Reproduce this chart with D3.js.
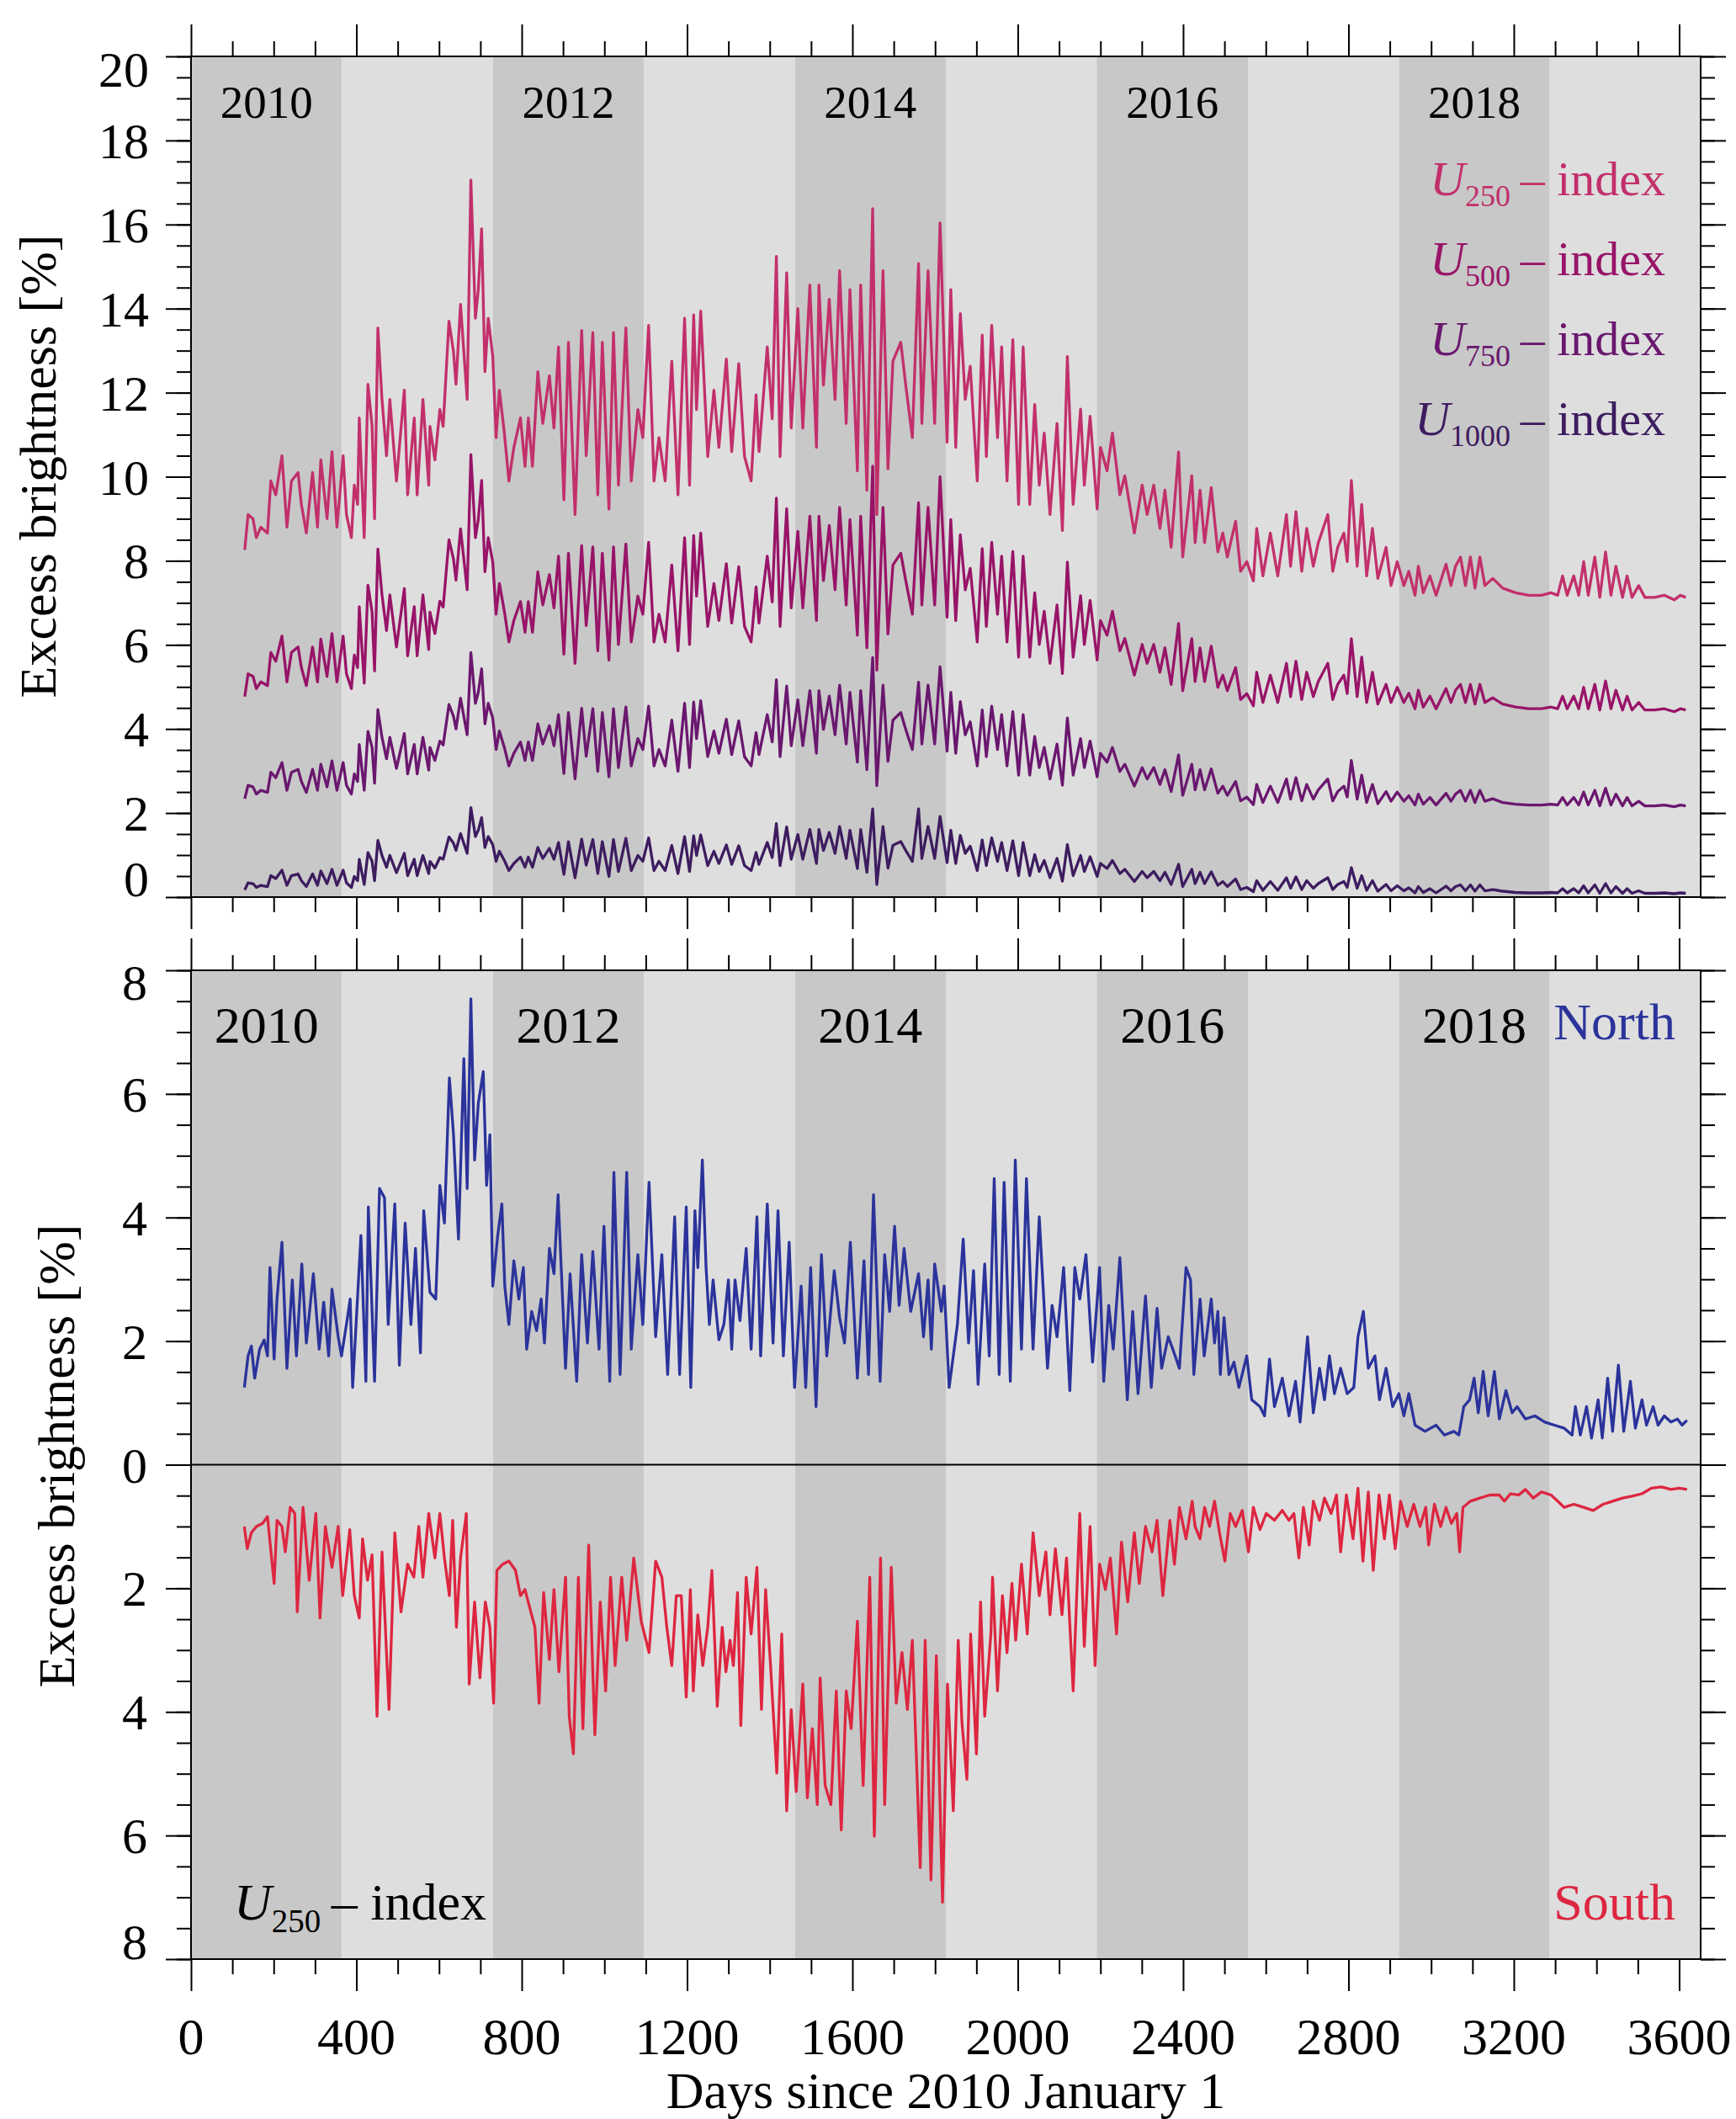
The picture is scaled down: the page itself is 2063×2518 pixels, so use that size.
<!DOCTYPE html>
<html>
<head>
<meta charset="utf-8">
<script src="https://cdn.jsdelivr.net/npm/d3@7"></script>
<style>
  body { margin: 0; background: #fff; }
  svg text { font-family: "Liberation Serif", "Times New Roman", serif; }
</style>
</head>
<body>
<svg id="chart" width="2063" height="2518"></svg>
<script>
// ---- data ----
const yearStarts = [0, 365, 730, 1096, 1461, 1826, 2191, 2557, 2922, 3287, 3652];
const yearNames = [2010, 2011, 2012, 2013, 2014, 2015, 2016, 2017, 2018, 2019];
const yearLabels = [2010, 2012, 2014, 2016, 2018];

const topDays = [
  130,138,150,158,169,185,193,205,220,232,
  243,259,267,279,294,306,314,329,341,353,
  368,376,388,395,403,407,419,428,438,444,
  452,462,473,481,497,516,524,540,547,561,
  575,578,590,602,610,624,635,641,652,668,
  677,688,695,703,711,719,730,738,746,758,
  769,781,797,808,816,826,839,851,867,878,
  889,902,913,929,945,956,972,984,995,1011,
  1022,1034,1052,1065,1081,1093,1107,1120,1132,1147,
  1163,1178,1194,1206,1216,1223,1233,1250,1265,1277,
  1295,1308,1325,1339,1355,1367,1374,1394,1406,1416,
  1425,1441,1452,1468,1480,1497,1513,1519,1530,1544,
  1558,1569,1585,1594,1612,1620,1635,1649,1659,1674,
  1686,1698,1717,1729,1745,1760,1768,1783,1799,1812,
  1829,1838,1850,1861,1873,1885,1902,1914,1924,1937,
  1951,1961,1974,1988,2002,2013,2029,2041,2052,2064,
  2078,2095,2108,2120,2134,2152,2161,2175,2192,2200,
  2216,2229,2247,2259,2282,2301,2313,2329,2344,2356,
  2371,2389,2399,2421,2429,2441,2452,2468,2484,2496,
  2507,2527,2539,2554,2570,2578,2593,2611,2629,2650,
  2660,2673,2687,2699,2715,2727,2750,2762,2774,2789,
  2797,2807,2821,2832,2844,2858,2871,2891,2903,2918,
  2934,2946,2961,2969,2981,2997,3012,3036,3048,3059,
  3071,3083,3095,3106,3118,3130,3149,3173,3204,3236,
  3267,3290,3306,3318,3329,3345,3357,3369,3380,3396,
  3408,3422,3435,3447,3463,3474,3486,3502,3517,3541,
  3564,3588,3603,3616
];

const u250 = [
  8.26,9.1,9.0,8.55,8.8,8.66,9.9,9.57,10.5,8.8,
  9.9,10.1,9.34,8.66,10.1,8.8,10.4,9.0,10.6,8.8,
  10.5,9.1,8.55,9.8,9.34,11.4,8.55,12.2,11.2,9.0,
  13.54,11.84,10.5,11.84,9.9,12.06,9.57,11.4,9.57,11.84,
  9.8,11.2,10.4,11.6,11.2,13.7,12.97,12.2,14.1,11.84,
  17.06,13.77,14.45,15.9,12.5,13.77,12.86,10.93,12.06,11.04,
  9.9,10.7,11.4,10.25,11.4,10.25,12.5,11.27,12.4,11.16,
  13.09,9.45,13.2,9.1,13.48,10.5,13.43,9.57,13.2,9.23,
  13.43,9.8,13.54,9.9,11.6,10.93,13.6,9.9,10.93,9.9,
  12.75,9.57,13.77,9.8,13.85,11.6,13.94,10.48,12.06,10.7,
  12.8,10.6,12.69,10.48,9.9,11.95,10.6,13.09,11.38,15.24,
  10.48,14.85,11.16,14.0,11.16,14.56,10.7,14.56,12.18,14.22,
  11.84,14.9,11.27,14.45,10.14,14.56,9.68,16.38,9.1,14.9,
  10.19,12.75,13.2,12.18,10.93,15.07,11.27,14.9,11.27,16.04,
  10.82,14.45,10.7,13.88,11.84,12.63,9.9,13.37,10.48,13.6,
  10.93,13.09,9.9,13.26,9.34,13.09,9.34,11.72,9.8,11.04,
  9.1,11.27,8.72,12.86,9.34,11.61,9.8,11.44,9.23,10.7,
  10.14,11.04,9.57,10.02,8.66,9.8,9.1,9.8,8.77,9.68,
  8.32,10.59,8.09,10.02,8.43,9.68,8.43,9.74,8.21,8.66,
  8.09,8.94,7.75,7.98,7.52,8.77,7.64,8.66,7.64,9.1,
  7.87,9.17,7.75,8.77,7.87,8.43,9.1,7.75,8.32,8.66,
  7.98,9.91,7.87,9.34,7.64,8.77,7.58,8.32,7.41,7.98,
  7.41,7.75,7.18,7.87,7.24,7.64,7.18,7.92,7.41,7.87,
  8.09,7.41,8.09,7.35,8.09,7.41,7.58,7.35,7.24,7.18,
  7.18,7.24,7.18,7.64,7.18,7.64,7.18,7.98,7.18,8.09,
  7.13,8.21,7.18,7.87,7.13,7.64,7.13,7.41,7.13,7.13,
  7.18,7.07,7.18,7.13
];

const u500 = [
  4.77,5.31,5.25,4.96,5.12,5.03,5.82,5.61,6.21,5.12,
  5.82,5.95,5.46,5.03,5.95,5.12,6.14,5.25,6.27,5.12,
  6.21,5.31,4.96,5.76,5.46,6.91,5.09,7.42,6.78,5.38,
  8.28,7.19,6.34,7.19,5.95,7.34,5.74,6.91,5.74,7.19,
  5.89,6.78,6.27,7.04,6.9,8.5,8.04,7.54,8.76,7.31,
  10.53,8.55,8.98,9.91,7.74,8.55,7.97,6.73,7.46,6.8,
  6.07,6.58,7.03,6.3,7.03,6.3,7.74,6.95,7.67,6.88,
  8.11,5.78,8.18,5.56,8.36,6.46,8.33,5.86,8.18,5.64,
  8.33,6.01,8.4,6.07,7.16,6.73,8.44,6.07,6.73,6.07,
  7.9,5.86,8.55,6.01,8.6,7.16,8.66,6.44,7.46,6.58,
  7.93,6.52,7.86,6.44,6.07,7.38,6.52,8.11,7.02,9.49,
  6.44,9.24,6.88,8.7,6.88,9.06,6.58,9.06,7.53,8.84,
  7.31,9.27,6.95,8.98,6.23,9.06,5.93,10.25,5.4,9.27,
  6.26,7.9,8.18,7.53,6.73,9.38,6.95,9.27,6.95,10.0,
  6.66,8.98,6.58,8.62,7.31,7.82,6.07,8.29,6.44,8.44,
  6.73,8.11,6.07,8.22,5.71,8.11,5.71,7.24,6.01,6.8,
  5.56,6.95,5.32,7.97,5.71,7.17,6.01,7.06,5.64,6.58,
  6.23,6.8,5.86,6.15,5.28,6.01,5.56,6.01,5.35,5.93,
  5.06,6.51,4.91,6.15,5.13,5.93,5.13,5.97,4.99,5.28,
  4.91,5.46,4.7,4.84,4.55,5.35,4.63,5.28,4.63,5.56,
  4.77,5.61,4.7,5.35,4.77,5.13,5.56,4.7,5.06,5.28,
  4.84,6.15,4.77,5.71,4.63,5.35,4.59,5.06,4.63,4.99,
  4.63,4.85,4.48,4.92,4.52,4.78,4.48,4.96,4.63,4.92,
  5.06,4.63,5.06,4.59,5.06,4.63,4.74,4.59,4.52,4.48,
  4.48,4.52,4.48,4.78,4.48,4.78,4.48,4.99,4.48,5.06,
  4.45,5.14,4.48,4.92,4.45,4.78,4.45,4.63,4.45,4.45,
  4.48,4.41,4.48,4.45
];

const u750 = [
  2.34,2.66,2.62,2.45,2.54,2.49,2.97,2.84,3.2,2.54,
  2.97,3.04,2.75,2.49,3.04,2.54,3.16,2.62,3.24,2.54,
  3.2,2.66,2.45,2.93,2.75,3.63,2.54,3.94,3.56,2.71,
  4.46,3.8,3.29,3.8,3.06,3.89,2.93,3.63,2.93,3.8,
  3.02,3.56,3.25,3.71,3.62,4.58,4.3,4.0,4.73,3.86,
  5.82,4.61,4.87,5.43,4.12,4.61,4.26,3.51,3.95,3.56,
  3.12,3.42,3.69,3.25,3.69,3.25,4.12,3.64,4.08,3.6,
  4.34,2.94,4.39,2.81,4.49,3.35,4.48,2.99,4.39,2.86,
  4.48,3.08,4.52,3.12,3.77,3.51,4.54,3.12,3.51,3.12,
  4.21,2.99,4.61,3.08,4.64,3.77,4.67,3.34,3.95,3.42,
  4.23,3.39,4.19,3.34,3.12,3.91,3.39,4.34,3.69,5.17,
  3.34,5.02,3.6,4.69,3.6,4.91,3.42,4.91,3.99,4.78,
  3.86,5.04,3.64,4.87,3.21,4.91,3.03,5.7,2.65,5.04,
  3.23,4.21,4.39,3.99,3.51,5.11,3.64,5.04,3.64,5.48,
  3.47,4.87,3.42,4.65,3.86,4.17,3.12,4.45,3.34,4.54,
  3.51,4.34,3.12,4.41,2.9,4.34,2.9,3.82,3.08,3.56,
  2.81,3.64,2.66,4.26,2.9,3.77,3.08,3.71,2.86,3.42,
  3.21,3.56,2.99,3.16,2.64,3.08,2.81,3.08,2.68,3.03,
  2.51,3.38,2.42,3.16,2.55,3.03,2.55,3.05,2.47,2.64,
  2.42,2.75,2.29,2.38,2.2,2.68,2.25,2.64,2.25,2.81,
  2.33,2.84,2.29,2.68,2.33,2.55,2.81,2.29,2.51,2.64,
  2.38,3.25,2.33,2.9,2.25,2.68,2.22,2.51,2.28,2.5,
  2.28,2.41,2.19,2.45,2.21,2.37,2.19,2.47,2.28,2.45,
  2.54,2.28,2.54,2.25,2.54,2.28,2.34,2.25,2.21,2.19,
  2.19,2.21,2.19,2.37,2.19,2.37,2.19,2.5,2.19,2.54,
  2.17,2.59,2.19,2.45,2.17,2.37,2.17,2.28,2.17,2.17,
  2.19,2.15,2.19,2.17
];

const u1000 = [
  0.17,0.34,0.32,0.23,0.28,0.25,0.51,0.44,0.64,0.28,
  0.51,0.55,0.39,0.25,0.55,0.28,0.62,0.32,0.66,0.28,
  0.64,0.34,0.23,0.49,0.39,0.9,0.3,1.06,0.85,0.39,
  1.35,0.99,0.71,0.99,0.58,1.04,0.51,0.9,0.51,0.99,
  0.56,0.85,0.69,0.94,0.9,1.43,1.28,1.11,1.51,1.04,
  2.13,1.44,1.59,1.89,1.18,1.44,1.25,0.85,1.09,0.87,
  0.63,0.8,0.95,0.71,0.95,0.71,1.18,0.92,1.16,0.9,
  1.3,0.54,1.32,0.46,1.38,0.76,1.37,0.56,1.32,0.49,
  1.37,0.61,1.4,0.63,0.99,0.85,1.41,0.63,0.85,0.63,
  1.23,0.56,1.44,0.61,1.46,0.99,1.48,0.75,1.09,0.8,
  1.24,0.78,1.22,0.75,0.63,1.06,0.78,1.3,0.94,1.75,
  0.75,1.67,0.9,1.49,0.9,1.61,0.8,1.61,1.11,1.54,
  1.04,1.68,0.92,1.59,0.68,1.61,0.59,2.1,0.3,1.68,
  0.69,1.23,1.32,1.11,0.85,2.1,0.92,1.68,0.92,1.92,
  0.82,1.59,0.8,1.47,1.04,1.21,0.63,1.36,0.75,1.41,
  0.85,1.3,0.63,1.34,0.51,1.3,0.51,1.01,0.61,0.87,
  0.46,0.92,0.38,1.25,0.51,0.99,0.61,0.96,0.49,0.8,
  0.68,0.87,0.56,0.66,0.37,0.61,0.46,0.61,0.39,0.59,
  0.3,0.78,0.25,0.66,0.32,0.59,0.32,0.6,0.28,0.37,
  0.25,0.43,0.18,0.23,0.13,0.39,0.16,0.37,0.16,0.46,
  0.21,0.48,0.18,0.39,0.21,0.32,0.46,0.18,0.3,0.37,
  0.23,0.7,0.21,0.51,0.16,0.39,0.14,0.3,0.15,0.27,
  0.15,0.22,0.1,0.25,0.11,0.2,0.1,0.26,0.15,0.25,
  0.29,0.15,0.29,0.14,0.29,0.15,0.18,0.14,0.11,0.1,
  0.1,0.11,0.1,0.2,0.1,0.2,0.1,0.27,0.1,0.29,
  0.09,0.32,0.1,0.25,0.09,0.2,0.09,0.15,0.09,0.09,
  0.1,0.08,0.1,0.09
];

// U250 index, northern hemisphere [day, %]
const north = [
  [129,1.25],[138,1.76],[146,1.92],[154,1.4],[166,1.87],[177,2.02],[185,1.76],[191,3.19],[201,1.71],[208,2.68],
  [220,3.6],[232,1.56],[245,2.99],[255,1.76],[268,3.25],[279,1.97],[296,3.09],[310,1.87],[321,2.63],[333,1.76],
  [341,2.84],[356,2.07],[364,1.76],[376,2.27],[385,2.68],[391,1.25],[411,3.71],[423,1.35],[429,4.17],[444,1.35],
  [456,4.47],[468,4.32],[477,2.27],[493,4.22],[504,1.61],[518,3.91],[532,2.27],[543,3.5],[555,1.81],[563,4.11],
  [578,2.79],[592,2.68],[602,4.52],[613,3.91],[625,6.26],[635,5.34],[647,3.65],[660,6.57],[668,4.47],[677,7.54],
  [686,4.93],[695,5.85],[707,6.36],[715,4.52],[723,5.34],[730,2.89],[742,3.71],[752,4.22],[759,2.89],[769,2.27],
  [781,3.3],[793,2.68],[804,3.19],[812,1.87],[824,2.48],[836,2.17],[847,2.68],[855,1.97],[867,3.5],[878,3.09],
  [888,4.37],[906,1.56],[917,3.09],[933,1.35],[945,3.4],[959,1.97],[972,3.45],[987,1.87],[999,3.86],[1013,1.35],
  [1023,4.73],[1038,1.46],[1054,4.73],[1065,1.87],[1081,3.4],[1093,2.27],[1108,4.57],[1124,2.07],[1139,3.4],[1153,1.46],
  [1170,4.01],[1182,1.46],[1198,4.17],[1209,1.25],[1219,4.11],[1226,3.19],[1237,4.93],[1246,3.19],[1254,2.27],[1263,2.99],
  [1277,2.02],[1289,2.27],[1300,2.99],[1308,1.87],[1316,2.99],[1328,2.33],[1343,3.5],[1355,1.87],[1369,4.01],[1378,1.76],
  [1394,4.22],[1408,1.97],[1420,4.11],[1433,1.76],[1447,3.6],[1460,1.25],[1476,2.89],[1487,1.25],[1499,3.19],[1512,0.94],
  [1525,3.4],[1538,1.76],[1556,3.14],[1569,2.38],[1581,1.97],[1595,3.6],[1612,1.4],[1628,3.3],[1639,1.46],[1651,4.37],
  [1667,1.35],[1678,3.4],[1690,2.48],[1702,3.86],[1713,2.58],[1725,3.5],[1741,2.48],[1760,3.09],[1772,2.07],[1783,2.99],
  [1791,1.87],[1799,3.25],[1815,2.48],[1822,2.89],[1834,1.25],[1854,2.27],[1868,3.65],[1881,1.97],[1893,3.14],[1904,1.3],
  [1920,3.25],[1931,1.76],[1943,4.63],[1955,1.46],[1967,4.57],[1982,1.35],[1994,4.93],[2009,1.87],[2021,4.63],[2037,1.87],
  [2052,4.01],[2072,1.56],[2083,2.58],[2095,2.07],[2111,3.19],[2126,1.2],[2138,3.19],[2150,2.68],[2165,3.4],[2181,1.66],
  [2198,3.19],[2208,1.35],[2220,2.58],[2231,1.87],[2247,3.35],[2265,1.05],[2278,2.48],[2291,1.15],[2309,2.73],[2323,1.25],
  [2337,2.53],[2348,1.56],[2364,2.07],[2375,1.87],[2391,1.56],[2407,3.19],[2418,2.99],[2426,1.46],[2441,2.68],[2451,1.76],
  [2468,2.68],[2476,1.97],[2484,2.48],[2490,1.46],[2499,2.38],[2511,1.46],[2523,1.66],[2535,1.25],[2554,1.76],[2566,1.05],
  [2586,0.94],[2597,0.79],[2609,1.71],[2621,0.94],[2640,1.4],[2656,0.79],[2672,1.35],[2683,0.69],[2701,2.07],[2715,0.84],
  [2730,1.56],[2742,1.05],[2754,1.76],[2766,1.15],[2781,1.56],[2797,1.15],[2813,1.25],[2823,2.07],[2836,2.48],[2848,1.56],
  [2864,1.76],[2875,1.05],[2891,1.56],[2907,0.94],[2922,1.15],[2934,0.79],[2946,1.15],[2961,0.64],[2985,0.54],[3012,0.64],
  [3032,0.48],[3055,0.54],[3067,0.48],[3079,0.94],[3093,1.05],[3104,1.4],[3114,0.84],[3126,1.51],[3138,0.79],[3153,1.51],
  [3165,0.74],[3181,1.2],[3196,0.84],[3208,0.94],[3228,0.74],[3251,0.79],[3275,0.69],[3298,0.64],[3322,0.59],[3341,0.48],
  [3349,0.94],[3361,0.48],[3376,0.94],[3388,0.43],[3404,1.05],[3414,0.43],[3427,1.4],[3439,0.54],[3453,1.61],[3466,0.54],
  [3482,1.35],[3494,0.59],[3510,1.05],[3521,0.64],[3537,0.94],[3549,0.64],[3564,0.79],[3580,0.69],[3596,0.74],[3607,0.64],
  [3619,0.72]
];

// U250 index, southern hemisphere [day, %] (plotted downwards)
const south = [
  [129,1.0],[136,1.36],[146,1.1],[158,1.0],[173,0.95],[185,0.84],[201,1.92],[208,0.9],[220,1.0],[228,1.41],
  [240,0.69],[251,0.79],[257,2.38],[271,0.69],[286,1.87],[302,0.79],[312,2.48],[325,1.0],[341,1.66],[356,1.0],
  [367,2.12],[384,1.05],[395,2.12],[407,2.48],[415,1.2],[427,1.87],[438,1.46],[450,4.07],[462,1.41],[479,3.96],
  [493,1.1],[508,2.38],[524,1.61],[539,1.82],[551,1.0],[561,1.82],[575,0.79],[590,1.51],[602,0.79],[613,1.51],
  [625,2.12],[633,0.9],[642,2.63],[652,1.51],[666,0.79],[673,3.55],[686,2.22],[699,3.45],[712,2.22],[723,2.63],
  [732,3.86],[740,1.71],[754,1.61],[769,1.56],[785,1.71],[797,2.12],[808,2.02],[820,2.33],[832,2.63],[842,3.86],
  [853,2.07],[867,3.15],[878,2.02],[890,3.35],[906,1.82],[915,4.07],[925,4.68],[937,1.82],[948,4.27],[962,1.3],
  [977,4.37],[990,2.22],[1003,3.66],[1015,1.82],[1026,3.25],[1042,1.82],[1054,2.84],[1071,1.51],[1089,2.53],[1108,3.04],
  [1124,1.56],[1139,1.82],[1151,2.63],[1163,3.25],[1174,2.12],[1186,2.12],[1198,3.76],[1208,2.02],[1215,3.66],[1226,2.43],
  [1238,3.25],[1250,2.63],[1260,1.71],[1273,3.91],[1285,2.63],[1294,3.35],[1304,2.84],[1312,3.25],[1322,2.07],[1330,4.22],
  [1343,1.82],[1355,2.74],[1369,1.66],[1380,3.96],[1390,2.02],[1402,3.25],[1417,4.99],[1429,2.74],[1441,5.6],[1452,3.96],
  [1464,5.29],[1480,3.55],[1491,5.39],[1503,4.27],[1515,5.5],[1522,3.45],[1534,5.19],[1548,5.5],[1561,3.66],[1573,5.91],
  [1585,3.66],[1597,4.27],[1612,2.53],[1626,5.19],[1642,1.82],[1653,6.01],[1668,1.51],[1678,5.5],[1694,1.66],[1706,3.86],
  [1720,3.04],[1733,3.96],[1745,2.84],[1764,6.52],[1776,2.84],[1790,6.72],[1803,3.09],[1818,7.08],[1830,3.55],[1844,5.6],
  [1856,2.84],[1865,4.17],[1877,5.09],[1886,2.74],[1900,4.68],[1910,2.22],[1920,4.07],[1935,2.74],[1939,1.82],[1951,3.66],
  [1963,2.12],[1974,3.04],[1986,1.92],[1995,2.84],[2009,1.61],[2023,2.74],[2037,1.1],[2052,2.12],[2068,1.41],[2078,2.43],
  [2091,1.36],[2107,2.43],[2118,1.51],[2134,3.66],[2150,0.79],[2161,2.94],[2175,1.0],[2187,3.25],[2198,1.61],[2212,2.02],
  [2224,1.51],[2239,2.74],[2251,1.25],[2266,2.22],[2282,1.1],[2294,1.92],[2309,1.0],[2325,1.41],[2337,0.9],[2351,2.12],
  [2368,0.9],[2379,1.61],[2391,0.69],[2407,1.2],[2422,0.59],[2429,1.0],[2441,1.2],[2452,0.69],[2464,1.0],[2476,0.59],
  [2488,1.1],[2501,1.56],[2514,0.79],[2527,1.0],[2543,0.74],[2558,1.41],[2570,0.69],[2586,1.05],[2601,0.79],[2621,0.9],
  [2640,0.74],[2656,0.9],[2668,0.79],[2680,1.51],[2691,0.69],[2705,1.3],[2715,0.59],[2730,0.9],[2742,0.54],[2758,0.79],
  [2771,0.49],[2781,1.41],[2795,0.49],[2811,1.2],[2823,0.38],[2835,1.56],[2848,0.44],[2860,1.71],[2874,0.49],[2887,1.2],
  [2899,0.49],[2913,1.36],[2926,0.59],[2942,1.0],[2958,0.64],[2973,1.0],[2987,0.69],[2994,1.3],[3008,0.64],[3023,1.0],
  [3036,0.69],[3049,0.95],[3062,0.79],[3069,1.41],[3077,0.69],[3095,0.59],[3118,0.54],[3142,0.49],[3165,0.49],[3177,0.59],
  [3192,0.47],[3212,0.49],[3228,0.4],[3247,0.54],[3267,0.44],[3290,0.49],[3306,0.59],[3322,0.69],[3345,0.64],[3369,0.69],
  [3392,0.74],[3416,0.64],[3439,0.59],[3463,0.54],[3486,0.51],[3510,0.47],[3533,0.38],[3557,0.36],[3580,0.4],[3600,0.38],
  [3619,0.4]
];

const xTickLabels = [0, 400, 800, 1200, 1600, 2000, 2400, 2800, 3200, 3600];
const topYLabels = [0, 2, 4, 6, 8, 10, 12, 14, 16, 18, 20];
const botYLabels = [-8, -6, -4, -2, 0, 2, 4, 6, 8];

const topSeries = [
  { sub: "250", values: u250, color: "#c2306b" },
  { sub: "500", values: u500, color: "#981468" },
  { sub: "750", values: u750, color: "#6a176e" },
  { sub: "1000", values: u1000, color: "#3d1c5f" }
];

// ---- layout ----
const svg = d3.select('#chart');
const x = d3.scaleLinear().domain([0, 3652]).range([227, 2021]);
const yTop = d3.scaleLinear().domain([0, 20]).range([1066, 67]);
const yBot = d3.scaleLinear().domain([-8, 8]).range([2328, 1153]);

const bandDark = '#c8c8c8';
const bandLight = '#dedede';
const blue = '#2b339b';
const red = '#dd2640';
const lineWidth = 3.3;

svg.append('rect').attr('width', 2063).attr('height', 2518).attr('fill', '#fff');

const drawBands = (y) => {
    const [y0, y1] = y.range();
    svg.append('g').selectAll('rect')
        .data(yearNames)
        .enter()
        .append('rect')
        .attr('x', (d, i) => x(yearStarts[i]))
        .attr('width', (d, i) => x(yearStarts[i + 1]) - x(yearStarts[i]))
        .attr('y', y1)
        .attr('height', y0 - y1)
        .attr('fill', d => d % 2 === 0 ? bandDark : bandLight);
}

const yearMid = (yr) => {
    const i = yearNames.indexOf(yr);
    return (yearStarts[i] + yearStarts[i + 1]) / 2;
}

const drawAxes = (y, majorY, minorY) => {
    const [y0, y1] = y.range();
    const minorX = d3.range(0, 3652, 100).filter(d => d % 400 !== 0);
    const majorX = d3.range(0, 3652, 400);
    const style = g => {
        g.select('.domain').remove();
        g.selectAll('line').attr('stroke', '#000').attr('stroke-width', 2);
    };
    svg.append('g').attr('transform', `translate(0,${y1})`)
        .call(d3.axisTop(x).tickValues(minorX).tickSize(18).tickFormat('')).call(style);
    svg.append('g').attr('transform', `translate(0,${y1})`)
        .call(d3.axisTop(x).tickValues(majorX).tickSize(38).tickFormat('')).call(style);
    svg.append('g').attr('transform', `translate(0,${y0})`)
        .call(d3.axisBottom(x).tickValues(minorX).tickSize(18).tickFormat('')).call(style);
    svg.append('g').attr('transform', `translate(0,${y0})`)
        .call(d3.axisBottom(x).tickValues(majorX).tickSize(38).tickFormat('')).call(style);
    svg.append('g').attr('transform', `translate(${x(0)},0)`)
        .call(d3.axisLeft(y).tickValues(minorY).tickSize(17).tickFormat('')).call(style);
    svg.append('g').attr('transform', `translate(${x(0)},0)`)
        .call(d3.axisLeft(y).tickValues(majorY).tickSize(30).tickFormat('')).call(style);
    svg.append('g').attr('transform', `translate(${x(3652)},0)`)
        .call(d3.axisRight(y).tickValues(minorY).tickSize(17).tickFormat('')).call(style);
    svg.append('g').attr('transform', `translate(${x(3652)},0)`)
        .call(d3.axisRight(y).tickValues(majorY).tickSize(30).tickFormat('')).call(style);
    svg.append('rect')
        .attr('x', x(0)).attr('y', y1)
        .attr('width', x(3652) - x(0)).attr('height', y0 - y1)
        .attr('fill', 'none').attr('stroke', '#000').attr('stroke-width', 2);
}

// ---- top panel ----
drawBands(yTop);

const lineTop = d3.line().x(d => x(d[0])).y(d => yTop(d[1]));
svg.append('g').selectAll('path')
    .data(topSeries)
    .enter()
    .append('path')
    .attr('d', s => lineTop(d3.zip(topDays, s.values)))
    .attr('fill', 'none')
    .attr('stroke', s => s.color)
    .attr('stroke-width', lineWidth)
    .attr('stroke-linejoin', 'round');

svg.append('g').selectAll('text')
    .data(yearLabels)
    .enter()
    .append('text')
    .attr('x', d => x(yearMid(d)))
    .attr('y', 140)
    .attr('text-anchor', 'middle')
    .style('font-size', '55px')
    .text(d => d);

const legend = svg.append('g').selectAll('text')
    .data(topSeries)
    .enter()
    .append('text')
    .attr('x', 1979)
    .attr('y', (d, i) => 232 + i * 95)
    .attr('text-anchor', 'end')
    .attr('fill', d => d.color)
    .style('font-size', '58px');
legend.append('tspan').style('font-style', 'italic').text('U');
legend.append('tspan').style('font-size', '36px').attr('dy', 13).text(d => d.sub);
legend.append('tspan').attr('dy', -13).text('\u2009\u2013 index');

drawAxes(yTop, d3.range(0, 20.1, 2), d3.range(0, 20.1, 0.5));

svg.append('g').selectAll('text')
    .data(topYLabels)
    .enter()
    .append('text')
    .attr('x', 177)
    .attr('y', d => Math.max(82, Math.min(1044, yTop(d))) + 21)
    .attr('text-anchor', 'end')
    .style('font-size', '60px')
    .text(d => d);

// ---- bottom panel ----
drawBands(yBot);

const lineNorth = d3.line().x(d => x(d[0])).y(d => yBot(d[1]));
const lineSouth = d3.line().x(d => x(d[0])).y(d => yBot(-d[1]));

svg.append('path')
    .attr('d', lineNorth(north))
    .attr('fill', 'none').attr('stroke', blue)
    .attr('stroke-width', lineWidth).attr('stroke-linejoin', 'round');
svg.append('path')
    .attr('d', lineSouth(south))
    .attr('fill', 'none').attr('stroke', red)
    .attr('stroke-width', lineWidth).attr('stroke-linejoin', 'round');

svg.append('line')
    .attr('x1', x(0)).attr('x2', x(3652))
    .attr('y1', yBot(0)).attr('y2', yBot(0))
    .attr('stroke', '#000').attr('stroke-width', 2);

svg.append('g').selectAll('text')
    .data(yearLabels)
    .enter()
    .append('text')
    .attr('x', d => x(yearMid(d)))
    .attr('y', 1239)
    .attr('text-anchor', 'middle')
    .style('font-size', '62px')
    .text(d => d);

svg.append('text')
    .attr('x', 1991).attr('y', 1235)
    .attr('text-anchor', 'end').attr('fill', blue)
    .style('font-size', '62px')
    .text('North');
svg.append('text')
    .attr('x', 1991).attr('y', 2281)
    .attr('text-anchor', 'end').attr('fill', red)
    .style('font-size', '62px')
    .text('South');

const idx = svg.append('text')
    .attr('x', 278).attr('y', 2281)
    .style('font-size', '62px');
idx.append('tspan').style('font-style', 'italic').text('U');
idx.append('tspan').style('font-size', '39px').attr('dy', 15).text('250');
idx.append('tspan').attr('dy', -15).text('\u2009\u2013 index');

drawAxes(yBot, d3.range(-8, 8.1, 2), d3.range(-8, 8.1, 0.5));

svg.append('g').selectAll('text')
    .data(botYLabels)
    .enter()
    .append('text')
    .attr('x', 175)
    .attr('y', d => Math.max(1167, Math.min(2307, yBot(d))) + 21)
    .attr('text-anchor', 'end')
    .style('font-size', '60px')
    .text(d => Math.abs(d));

svg.append('g').selectAll('text')
    .data(xTickLabels)
    .enter()
    .append('text')
    .attr('x', d => x(d))
    .attr('y', 2441)
    .attr('text-anchor', 'middle')
    .style('font-size', '62px')
    .text(d => d);

// ---- axis titles ----
svg.append('text')
    .attr('x', 1124).attr('y', 2505)
    .attr('text-anchor', 'middle')
    .style('font-size', '62px')
    .text('Days since 2010 January 1');

svg.append('text')
    .attr('transform', 'translate(66,554) rotate(-90)')
    .attr('text-anchor', 'middle')
    .style('font-size', '62px')
    .text('Excess brightness [%]');

svg.append('text')
    .attr('transform', 'translate(88,1730) rotate(-90)')
    .attr('text-anchor', 'middle')
    .style('font-size', '62px')
    .text('Excess brightness [%]');
</script>
</body>
</html>
